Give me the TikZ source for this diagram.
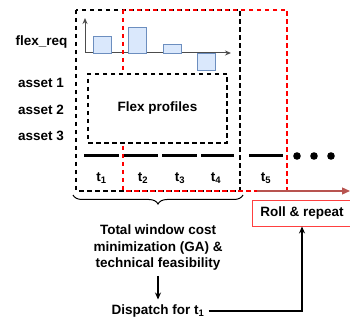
\documentclass[tikz,border=0pt]{standalone}
\usepackage{xcolor}
\usepackage{fontspec}
\setmainfont{Liberation Sans}
\usetikzlibrary{arrows.meta,decorations.pathreplacing,positioning}

\definecolor{barfill}{HTML}{DAE8FC}
\definecolor{barline}{HTML}{6C8EBF}
\definecolor{rollred}{HTML}{B85450}

\begin{document}
\begin{tikzpicture}[x=1pt,y=-1pt,font=\fontsize{13.5}{16.5}\selectfont\bfseries,
    win/.style={line width=1.3pt,dash pattern=on 4.5pt off 3.5pt},
    bar/.style={draw=barline,fill=barfill,line width=0.9pt},
    seg/.style={line width=3pt},
    axis/.style={-{Stealth[length=6pt,width=5pt]},black!70,line width=1pt}]
                \tikzstyle{every node}+=[inner sep=0pt]
                \useasboundingbox (0,0) rectangle (350,320);
                % labels on the left
                \node (flexreq) at (41.5,42) {flex\_req};
                \node (asset1) at (41,83) {asset 1};
                \node (asset2) at (41,110) {asset 2};
                \node (asset3) at (41,136) {asset 3};
                % request plot
                \coordinate (orig) at (85,53);
                \draw [axis] (orig) -- (85,18);
                \draw [axis] (orig) -- (231,53);
                \foreach \x/\h in {93/36,128/27,163/44,197/70}
                    \draw [bar] (\x,53) rectangle (\x+18,\h);
                % time slots
                \foreach \a/\b in {84/119,124/158,162/197,201/234,249/283}
                    \draw [seg] (\a,156) -- (\b,156);
                \foreach \x in {297,314,331}
                    \fill (\x,156) circle (3.8);
                \node (t1) at (101.5,178) {t\textsubscript{1}};
                \node (t2) at (143,178) {t\textsubscript{2}};
                \node (t3) at (180,178) {t\textsubscript{3}};
                \node (t4) at (216,178) {t\textsubscript{4}};
                \node (t5) at (266,178) {t\textsubscript{5}};
                % windows
                \draw [win,black] (76,10) rectangle (240,191);
                \draw [win,red] (123,10) rectangle (287,191);
                \draw [-{Triangle[length=8pt,width=7pt]},rollred,line width=1.3pt] (257,191) -- (350,191);
                % profiles
                \node [draw,fill=white,win,line width=1.1pt,minimum width=139pt,minimum height=69pt] (flex) at (157.5,108.5) {Flex profiles};
                % brace and text
                \draw [decorate,decoration={brace,mirror,amplitude=9pt},line width=1pt] (73,195) -- (243,195);
                \node [align=center] (cost) at (158,248) {Total window cost\\minimization (GA) \&\\technical feasibility};
                \node (disp) at (158,311) {Dispatch for t\textsubscript{1}};
                \node [draw=red!75,line width=0.9pt,fill=white,minimum width=100pt,minimum height=26pt] (roll) at (302,213) {Roll \& repeat};
                \draw [-{Stealth[length=7pt,width=6pt]},line width=1.5pt,shorten <=5pt,shorten >=5pt] (cost) -- (disp);
                \draw [-{Stealth[length=7pt,width=6pt]},line width=1.3pt,shorten <=4pt] (disp.east) -| (roll.south);
            \end{tikzpicture}
\end{document}
